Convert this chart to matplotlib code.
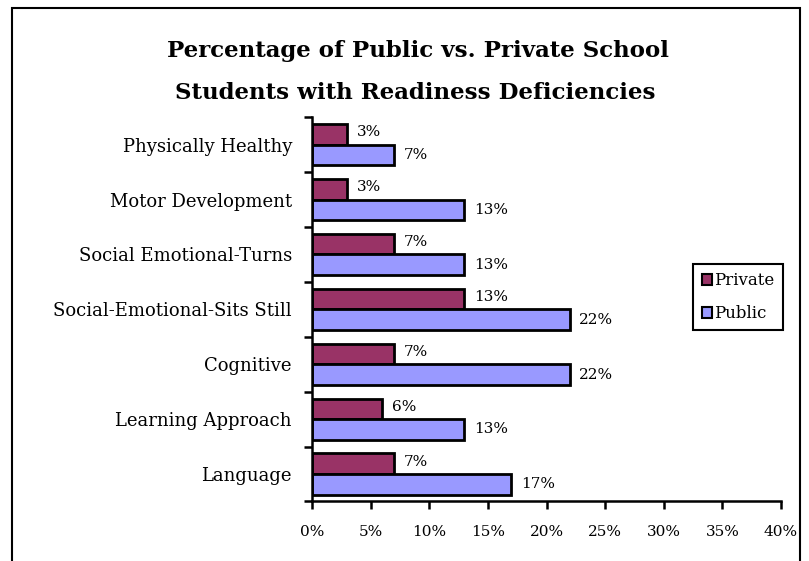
import matplotlib
matplotlib.use('Agg')
import matplotlib.pyplot as plt
from matplotlib.patches import Rectangle
from matplotlib.ticker import FixedLocator, PercentFormatter

# readiness areas, top to bottom
categories = ['Physically Healthy', 'Motor Development', 'Social Emotional-Turns',
              'Social-Emotional-Sits Still', 'Cognitive', 'Learning Approach', 'Language']
private = [3, 3, 7, 13, 7, 6, 7]
public = [7, 13, 13, 22, 22, 13, 17]

private_color = '#993366'
public_color = '#9999FF'
serif = 'DejaVu Serif'

fig = plt.figure(figsize=(8.09, 5.61), dpi=100)
ax = fig.add_axes([0.3857, 0.1061, 0.5797, 0.685])

n = len(categories)
ypos = [n - 1 - i for i in range(n)]
h = 0.375

ax.barh([y + h / 2 for y in ypos], private, height=h, color=private_color,
        edgecolor='black', linewidth=2, label='Private')
ax.barh([y - h / 2 for y in ypos], public, height=h, color=public_color,
        edgecolor='black', linewidth=2, label='Public')

for y, v in zip(ypos, private):
    ax.text(v + 0.8, y + h / 2 + 0.04, '%d%%' % v, va='center', ha='left', fontsize=11, family=serif)
for y, v in zip(ypos, public):
    ax.text(v + 0.8, y - h / 2, '%d%%' % v, va='center', ha='left', fontsize=11, family=serif)

ax.set_xlim(0, 40)
ax.set_ylim(-0.5, n - 0.5)
ax.set_xticks(range(0, 41, 5))
ax.xaxis.set_major_formatter(PercentFormatter(decimals=0))

# labels sit at group centres, tick marks between groups
ax.set_yticks(ypos)
ax.set_yticklabels(categories)
ax.yaxis.set_minor_locator(FixedLocator([i - 0.5 for i in range(n + 1)]))
ax.tick_params(axis='y', which='major', length=0, pad=14.5)
ax.tick_params(axis='y', which='minor', length=6, width=1.8, direction='out')
ax.tick_params(axis='x', length=6, width=1.8, direction='out', pad=11)

for lbl in ax.get_yticklabels():
    lbl.set_family(serif)
    lbl.set_fontsize(13)
for lbl in ax.get_xticklabels():
    lbl.set_family(serif)
    lbl.set_fontsize(11)

for side in ['top', 'right']:
    ax.spines[side].set_visible(False)
for side in ['left', 'bottom']:
    ax.spines[side].set_linewidth(1.8)

leg = ax.legend(loc='upper right', bbox_to_anchor=(1.004, 0.618), borderaxespad=0,
                fancybox=False, framealpha=1, handlelength=0.6, handleheight=0.6,
                handletextpad=0.15, labelspacing=0.95, borderpad=0.5,
                prop={'family': serif, 'size': 12})
leg.get_frame().set_edgecolor('black')
leg.get_frame().set_linewidth(1.5)
for patch in leg.get_patches():
    patch.set_linewidth(1.5)

fig.text(0.5167, 1 - 51 / 561, 'Percentage of Public vs. Private School', ha='center', va='center',
         fontsize=16.5, fontweight='bold', family=serif)
fig.text(0.5137, 1 - 93 / 561, 'Students with Readiness Deficiencies', ha='center', va='center',
         fontsize=16.5, fontweight='bold', family=serif)

# outer chart border
fig.patches.append(Rectangle((12 / 809, -0.05), (800 - 12) / 809, 1.05 - 8 / 561,
                             transform=fig.transFigure, fill=False, edgecolor='black',
                             linewidth=1.5, clip_on=False))

fig.savefig('out.png', dpi=100)
